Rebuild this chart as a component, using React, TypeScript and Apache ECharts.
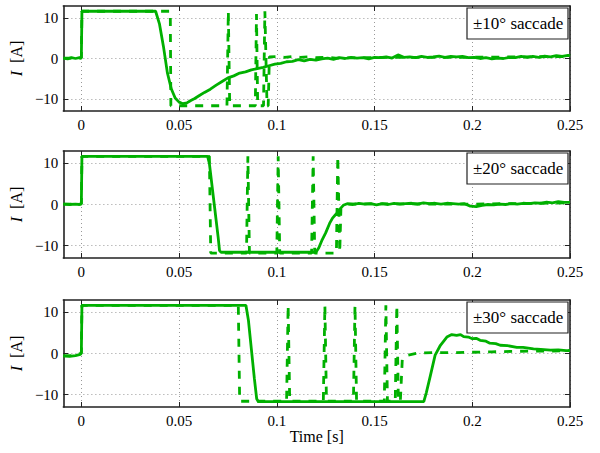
import React, { useEffect, useRef } from "react";
import * as echarts from "echarts";

// ---------- data ----------
const xTicks = [0, 0.05, 0.1, 0.15, 0.2, 0.25];
const yTicks = [-10, 0, 10];
const panelLabels = ["±10° saccade", "±20° saccade", "±30° saccade"];

// ±10° : motor current (solid)
const cur10: number[][] = [
  [-0.0092, 0.1], [-0.007, -0.1], [-0.005, 0.2], [-0.003, 0.0], [-0.001, 0.2], [0.0, 0.1],
  [0.0003, 11.7], [0.038, 11.7], [0.040, 8.5], [0.042, 3.0], [0.044, -3.5], [0.046, -7.5],
  [0.048, -9.8], [0.050, -10.8], [0.052, -11.2], [0.054, -11.0], [0.056, -10.4], [0.058, -9.9],
  [0.060, -9.3], [0.063, -8.4], [0.066, -7.6], [0.069, -6.6], [0.072, -5.7], [0.075, -4.8],
  [0.078, -4.3], [0.081, -3.6], [0.084, -3.3], [0.087, -2.8], [0.090, -2.5], [0.093, -2.2],
  [0.096, -1.8], [0.099, -1.4], [0.102, -1.2], [0.105, -0.8], [0.108, -0.7], [0.111, -0.3],
  [0.114, -0.6], [0.117, -0.2], [0.120, -0.4], [0.123, -0.1], [0.126, 0.1], [0.129, -0.2],
  [0.132, 0.2], [0.135, 0.0], [0.138, 0.3], [0.141, 0.1], [0.144, 0.2], [0.147, -0.1],
  [0.150, 0.3], [0.153, 0.2], [0.156, 0.4], [0.159, 0.1], [0.162, 0.9], [0.165, 0.3],
  [0.168, 0.4], [0.171, 0.2], [0.174, 0.5], [0.177, 0.3], [0.180, 0.4], [0.183, 0.6],
  [0.186, 0.3], [0.189, 0.5], [0.192, 0.4], [0.195, 0.5], [0.198, 0.2], [0.201, 0.3],
  [0.204, 0.0], [0.207, 0.2], [0.210, -0.1], [0.213, 0.1], [0.216, 0.0], [0.219, 0.3],
  [0.222, 0.2], [0.225, 0.5], [0.228, 0.3], [0.231, 0.5], [0.234, 0.3], [0.237, 0.6],
  [0.240, 0.4], [0.243, 0.7], [0.246, 0.5], [0.249, 0.8], [0.25, 0.6],
];
// ±10° : switching command (dashed)
const cmd10: number[][] = [
  [-0.0092, 0.1], [0.0, 0.1], [0.0003, 11.7], [0.0455, 11.7], [0.0458, -11.7],
  [0.0745, -11.7], [0.0752, 11.7], [0.0759, -11.7], [0.0890, -11.7], [0.0896, 11.0],
  [0.0902, -11.2], [0.0908, -11.7], [0.0932, -11.7], [0.0939, 11.7], [0.0950, -11.7],
  [0.0956, -11.7], [0.0962, 0.4], [0.100, 0.5], [0.104, 0.3], [0.108, 0.5], [0.112, 0.3],
  [0.116, 0.4], [0.120, 0.2], [0.125, 0.3], [0.130, 0.1], [0.150, 0.25], [0.200, 0.3],
  [0.25, 0.5],
];

// ±20°
const cur20: number[][] = [
  [-0.0092, 0.1], [-0.006, 0.0], [-0.003, 0.1], [-0.001, 0.0], [0.0, 0.2],
  [0.0003, 11.7], [0.0646, 11.7], [0.0655, 10.0], [0.068, 0.0], [0.0700, -8.0],
  [0.0707, -11.2], [0.0715, -11.6], [0.1200, -11.6], [0.1215, -10.5], [0.123, -8.8],
  [0.125, -6.9], [0.127, -4.6], [0.1285, -3.3], [0.130, -2.5], [0.131, -2.0],
  [0.1325, -1.0], [0.134, -0.2], [0.136, 0.2], [0.139, 0.0], [0.142, 0.3], [0.145, 0.1],
  [0.148, 0.2], [0.151, -0.1], [0.154, 0.2], [0.157, 0.0], [0.160, 0.3], [0.163, 0.1],
  [0.166, 0.2], [0.169, 0.3], [0.172, 0.1], [0.175, 0.4], [0.178, 0.2], [0.181, 0.3],
  [0.184, 0.1], [0.187, 0.3], [0.190, 0.2], [0.193, 0.1], [0.196, 0.2], [0.199, -0.4],
  [0.202, -0.5], [0.205, -0.2], [0.208, 0.0], [0.211, -0.1], [0.214, 0.1], [0.217, 0.0],
  [0.220, 0.2], [0.223, 0.1], [0.226, 0.3], [0.229, 0.2], [0.232, 0.4], [0.235, 0.3],
  [0.238, 0.6], [0.241, 0.4], [0.244, 0.7], [0.247, 0.5], [0.25, 0.5],
];
const cmd20: number[][] = [
  [-0.0092, 0.1], [0.0, 0.1], [0.0003, 11.7], [0.0655, 11.7], [0.0662, -11.8],
  [0.0845, -11.8], [0.0852, 11.7], [0.0860, -11.8], [0.1000, -11.8], [0.1007, 11.7],
  [0.1015, -11.8], [0.1178, -11.8], [0.1186, 11.7], [0.1194, -11.8], [0.1305, -11.8],
  [0.1312, 11.7], [0.1322, -11.6], [0.1328, -1.0], [0.136, 0.1], [0.150, 0.15],
  [0.200, 0.1], [0.25, 0.4],
];

// ±30°
const cur30: number[][] = [
  [-0.0092, -0.6], [-0.006, -0.7], [-0.003, -0.5], [-0.0005, -0.2], [0.0, 0.1],
  [0.0003, 11.7], [0.0842, 11.7], [0.0855, 8.0], [0.087, 1.0], [0.0885, -6.0],
  [0.0897, -11.0], [0.0905, -11.7], [0.1752, -11.7], [0.1765, -9.5], [0.1786, -5.3],
  [0.181, -0.4], [0.1837, 2.0], [0.187, 4.0], [0.1895, 4.6], [0.192, 4.4], [0.194, 4.6],
  [0.1956, 4.1], [0.198, 4.0], [0.200, 3.6], [0.202, 3.7], [0.204, 3.2], [0.207, 3.0],
  [0.209, 2.5], [0.212, 2.4], [0.2143, 2.0], [0.218, 1.9], [0.2228, 1.5], [0.226, 1.5],
  [0.2313, 1.1], [0.235, 1.0], [0.240, 0.8], [0.244, 0.9], [0.248, 0.7], [0.25, 0.7],
];
const cmd30: number[][] = [
  [-0.0092, -0.6], [-0.003, -0.5], [0.0, 0.1], [0.0003, 11.7], [0.0803, 11.7],
  [0.0810, -11.6], [0.1050, -11.6], [0.1058, 11.7], [0.1066, -11.6], [0.1238, -11.6],
  [0.1246, 11.7], [0.1254, -11.6], [0.1392, -11.6], [0.1400, 11.7], [0.1408, -11.6],
  [0.1550, -11.6], [0.1558, 11.7], [0.1566, -11.6], [0.1606, -11.6], [0.1614, 11.7],
  [0.1622, -11.6], [0.1632, -11.6], [0.1642, -1.4], [0.167, -0.4], [0.172, 0.1],
  [0.180, 0.2], [0.190, 0.2], [0.200, 0.3], [0.210, 0.4], [0.220, 0.5], [0.230, 0.6],
  [0.240, 0.6], [0.25, 0.7],
];

const currents = [cur10, cur20, cur30];
const commands = [cmd10, cmd20, cmd30];

// ---------- style ----------
const FONT = "serif";
const GREEN = "#00b000";
const X_MIN = -0.0092;
const X_MAX = 0.25;
const Y_MIN = -13;
const Y_MAX = 13;
const GRIDS = [
  { top: 6, height: 105 },
  { top: 151, height: 107 },
  { top: 300, height: 107 },
];
const LEFT = 62;
const RIGHT = 30;

const fmtY = (v: number) => (v < 0 ? "\u2212" + Math.abs(v) : String(v));

export default function App() {
  const ref = useRef<HTMLDivElement>(null);
  useEffect(() => {
    if (!ref.current) return;
    document.body.style.margin = "0";
    const chart = echarts.init(ref.current, undefined, { renderer: "svg" });
    const grid: any[] = [];
    const xAxis: any[] = [];
    const yAxis: any[] = [];
    const series: any[] = [];
    const graphic: any[] = [];
    const axisLine = { show: true, onZero: false, lineStyle: { color: "#222", width: 1.6 } };
    const tick = (vals: number[]) => ({
      show: true,
      inside: true,
      length: 5,
      customValues: vals,
      lineStyle: { color: "#222", width: 1 },
    });
    GRIDS.forEach((g, p) => {
      grid.push({ left: LEFT, right: RIGHT, top: g.top, height: g.height, containLabel: false });
      const last = p === GRIDS.length - 1;
      xAxis.push({
        type: "value",
        gridIndex: p,
        min: X_MIN,
        max: X_MAX,
        position: "bottom",
        axisLine,
        axisTick: tick(xTicks),
        axisLabel: {
          customValues: xTicks,
          margin: 6,
          fontFamily: FONT,
          fontSize: 15,
          color: "#000",
        },
        splitLine: { show: true, lineStyle: { color: "#999", type: [1, 3], width: 1 } },
        name: last ? "Time [s]" : "",
        nameLocation: "middle",
        nameGap: 21,
        nameTextStyle: { fontFamily: FONT, fontSize: 16, color: "#000" },
      });
      xAxis.push({
        type: "value",
        gridIndex: p,
        min: X_MIN,
        max: X_MAX,
        position: "top",
        axisLine,
        axisTick: tick(xTicks),
        axisLabel: { show: false },
        splitLine: { show: false },
      });
      yAxis.push({
        type: "value",
        gridIndex: p,
        min: Y_MIN,
        max: Y_MAX,
        splitNumber: 3,
        position: "left",
        axisLine,
        axisTick: tick(yTicks),
        axisLabel: {
          customValues: yTicks,
          margin: 5,
          fontFamily: FONT,
          fontSize: 15,
          color: "#000",
          formatter: fmtY,
        },
        splitLine: { show: true, lineStyle: { color: "#999", type: [1, 3], width: 1 } },
        name: "{i|I}  [A]",
        nameLocation: "middle",
        nameGap: 34,
        nameTextStyle: {
          fontFamily: FONT,
          fontSize: 16,
          color: "#000",
          rich: { i: { fontFamily: FONT, fontSize: 16, fontStyle: "italic", color: "#000" } },
        },
      });
      yAxis.push({
        type: "value",
        gridIndex: p,
        min: Y_MIN,
        max: Y_MAX,
        splitNumber: 3,
        position: "right",
        axisLine,
        axisTick: tick(yTicks),
        axisLabel: { show: false },
        splitLine: { show: false },
      });
      series.push({
        type: "line",
        xAxisIndex: 2 * p,
        yAxisIndex: 2 * p,
        data: currents[p],
        showSymbol: false,
        symbol: "none",
        lineStyle: { color: GREEN, width: 2.8 },
        z: 3,
      });
      series.push({
        type: "line",
        xAxisIndex: 2 * p,
        yAxisIndex: 2 * p,
        data: commands[p],
        showSymbol: false,
        symbol: "none",
        lineStyle: { color: GREEN, width: 2.8, type: [8, 8] },
        z: 4,
      });
      const by = g.top + 2;
      graphic.push({
        type: "rect",
        shape: { x: 467, y: by, width: 101, height: 31 },
        style: { fill: "#fff", stroke: "#222", lineWidth: 1.2 },
        z: 100,
      });
      graphic.push({
        type: "text",
        x: 473,
        y: by + 7,
        style: {
          text: panelLabels[p],
          fontFamily: FONT,
          fontSize: 17,
          fill: "#000",
        },
        z: 101,
      });
    });
    chart.setOption({
      animation: false,
      backgroundColor: "#fff",
      grid,
      xAxis,
      yAxis,
      series,
      graphic,
    });
    return () => chart.dispose();
  }, []);
  return (
    <div>
      <div ref={ref} style={{ width: 600, height: 453 }} />
    </div>
  );
}
